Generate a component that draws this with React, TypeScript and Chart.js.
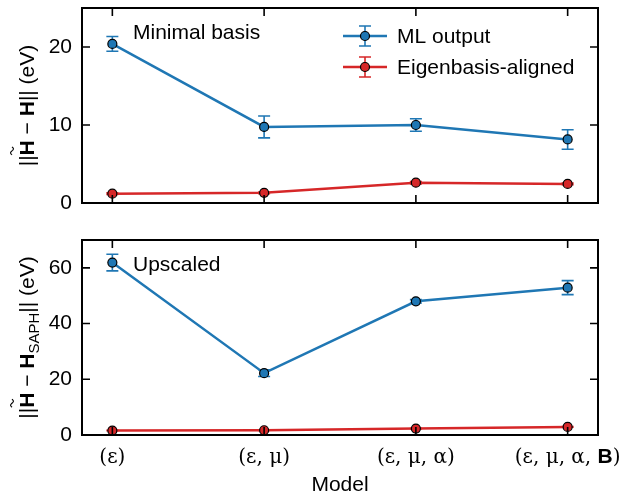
import React, { useEffect, useRef } from 'react';
import { Chart, registerables } from 'chart.js';

Chart.register(...registerables);

// ---- data ----
const categories = ['(ε)', '(ε, μ)', '(ε, μ, α)', '(ε, μ, α, B)'];
const seriesNames = ['ML output', 'Eigenbasis-aligned'];
const panelLabels = ['Minimal basis', 'Upscaled'];
const xAxisTitle = 'Model';

const minimalML = [20.4, 9.75, 10.0, 8.15];
const minimalMLErr = [0.95, 1.4, 0.8, 1.25];
const minimalEig = [1.2, 1.3, 2.6, 2.45];
const minimalEigErr = [0.1, 0.1, 0.15, 0.1];

const upscaledML = [61.9, 22.2, 48.0, 52.9];
const upscaledMLErr = [3.0, 1.2, 0.6, 2.5];
const upscaledEig = [1.6, 1.7, 2.3, 2.9];
const upscaledEigErr = [0.1, 0.1, 0.1, 0.1];

const topYMax = 25;
const topStep = 10;
const bottomYMax = 70;
const bottomStep = 20;

// ---- style ----
const BLUE = '#1f77b4';
const RED = '#d62728';
const SANS = '"Liberation Sans", Arial, sans-serif';
const SERIF = '"DejaVu Serif", serif';
const FS = 21;

type Run = { t: string; font: string; dy?: number; tilde?: boolean };

function drawRuns(ctx: CanvasRenderingContext2D, runs: Run[], x: number, y: number, align: 'center' | 'left') {
  let w = 0;
  for (const r of runs) {
    ctx.font = r.font;
    w += ctx.measureText(r.t).width;
  }
  let cx = align === 'center' ? x - w / 2 : x;
  ctx.textAlign = 'left';
  ctx.textBaseline = 'alphabetic';
  for (const r of runs) {
    ctx.font = r.font;
    const rw = ctx.measureText(r.t).width;
    ctx.fillText(r.t, cx, y + (r.dy || 0));
    if (r.tilde) {
      const mx = cx + rw / 2 - 3;
      const my = y - 22;
      ctx.save();
      ctx.lineWidth = 1.1;
      ctx.beginPath();
      for (let k = 0; k <= 16; k++) {
        const u = k / 16;
        const px = mx - 4 + 8 * u;
        const py = my - 1.4 * Math.sin(u * 2 * Math.PI);
        if (k === 0) ctx.moveTo(px, py);
        else ctx.lineTo(px, py);
      }
      ctx.stroke();
      ctx.restore();
    }
    cx += rw;
  }
}

function categoryRuns(label: string): Run[] {
  const runs: Run[] = [];
  for (const ch of label) {
    const font = ch === 'B' ? `bold ${FS}px ${SANS}` : `20px ${SERIF}`;
    const last = runs[runs.length - 1];
    if (last && last.font === font) last.t += ch;
    else runs.push({ t: ch, font });
  }
  return runs;
}

interface PanelCfg {
  ml: number[];
  mlErr: number[];
  eig: number[];
  eigErr: number[];
  yMax: number;
  step: number;
  label: string;
  yLabel: Run[];
  legend: boolean;
  xLabels: boolean;
  padding: { top: number; bottom: number; left: number; right: number };
}

function makePlugin(cfg: PanelCfg) {
  return {
    id: 'panelDecor',
    beforeDatasetsDraw(chart: any) {
      const ctx: CanvasRenderingContext2D = chart.ctx;
      const xs = chart.scales.x;
      const ys = chart.scales.y;
      chart.data.datasets.forEach((ds: any) => {
        ctx.save();
        ctx.strokeStyle = ds.borderColor;
        ctx.lineWidth = 1.6;
        ds.data.forEach((p: any, i: number) => {
          const e = ds.errors[i];
          const x = xs.getPixelForValue(p.x);
          const y1 = ys.getPixelForValue(p.y - e);
          const y2 = ys.getPixelForValue(p.y + e);
          ctx.beginPath();
          ctx.moveTo(x, y1);
          ctx.lineTo(x, y2);
          ctx.moveTo(x - 6, y1);
          ctx.lineTo(x + 6, y1);
          ctx.moveTo(x - 6, y2);
          ctx.lineTo(x + 6, y2);
          ctx.stroke();
        });
        ctx.restore();
      });
    },
    afterDraw(chart: any) {
      const ctx: CanvasRenderingContext2D = chart.ctx;
      const a = chart.chartArea;
      const xs = chart.scales.x;
      const ys = chart.scales.y;
      ctx.save();
      ctx.strokeStyle = '#000';
      ctx.fillStyle = '#000';
      // frame
      ctx.lineWidth = 2;
      ctx.strokeRect(a.left, a.top, a.right - a.left, a.bottom - a.top);
      // ticks
      ctx.lineWidth = 1.6;
      const TL = 8;
      categories.forEach((_, i) => {
        const x = xs.getPixelForValue(i);
        ctx.beginPath();
        ctx.moveTo(x, a.bottom);
        ctx.lineTo(x, a.bottom - TL);
        ctx.moveTo(x, a.top);
        ctx.lineTo(x, a.top + TL);
        ctx.stroke();
      });
      ys.ticks.forEach((t: any) => {
        const y = ys.getPixelForValue(t.value);
        ctx.beginPath();
        ctx.moveTo(a.left, y);
        ctx.lineTo(a.left + TL, y);
        ctx.moveTo(a.right, y);
        ctx.lineTo(a.right - TL, y);
        ctx.stroke();
      });
      // panel label
      ctx.font = `${FS}px ${SANS}`;
      ctx.textAlign = 'left';
      ctx.textBaseline = 'middle';
      ctx.fillText(cfg.label, 133, a.top + 25);
      // legend
      if (cfg.legend) {
        const rows = [
          { name: seriesNames[0], color: BLUE, y: 36 },
          { name: seriesNames[1], color: RED, y: 67 },
        ];
        rows.forEach((r) => {
          ctx.strokeStyle = r.color;
          ctx.lineWidth = 2.5;
          ctx.beginPath();
          ctx.moveTo(343, r.y);
          ctx.lineTo(387, r.y);
          ctx.stroke();
          ctx.lineWidth = 1.6;
          ctx.beginPath();
          ctx.moveTo(365, r.y - 10);
          ctx.lineTo(365, r.y + 10);
          ctx.moveTo(359, r.y - 10);
          ctx.lineTo(371, r.y - 10);
          ctx.moveTo(359, r.y + 10);
          ctx.lineTo(371, r.y + 10);
          ctx.stroke();
          ctx.beginPath();
          ctx.arc(365, r.y, 4.5, 0, Math.PI * 2);
          ctx.fillStyle = r.color;
          ctx.fill();
          ctx.strokeStyle = '#000';
          ctx.lineWidth = 1.2;
          ctx.stroke();
          ctx.fillStyle = '#000';
          ctx.font = `${FS}px ${SANS}`;
          ctx.textAlign = 'left';
          ctx.textBaseline = 'middle';
          ctx.fillText(r.name, 397, r.y + 1);
        });
      }
      // y axis label
      ctx.save();
      ctx.fillStyle = '#000';
      ctx.strokeStyle = '#000';
      ctx.translate(34, (a.top + a.bottom) / 2);
      ctx.rotate(-Math.PI / 2);
      drawRuns(ctx, cfg.yLabel, 0, 0, 'center');
      ctx.restore();
      // x labels
      if (cfg.xLabels) {
        ctx.fillStyle = '#000';
        categories.forEach((c, i) => {
          const x = xs.getPixelForValue(i);
          drawRuns(ctx, categoryRuns(c), x, a.bottom + 28, 'center');
        });
        ctx.font = `${FS}px ${SANS}`;
        ctx.textAlign = 'center';
        ctx.textBaseline = 'middle';
        ctx.fillText(xAxisTitle, (a.left + a.right) / 2, a.bottom + 50);
      }
      ctx.restore();
    },
  };
}

function buildChart(canvas: HTMLCanvasElement, cfg: PanelCfg) {
  const mk = (name: string, vals: number[], errs: number[], color: string) => ({
    label: name,
    data: vals.map((y, i) => ({ x: i, y })),
    errors: errs,
    borderColor: color,
    backgroundColor: color,
    borderWidth: 2.5,
    pointRadius: 4.5,
    pointBackgroundColor: color,
    pointBorderColor: '#000',
    pointBorderWidth: 1.2,
    tension: 0,
  });
  return new Chart(canvas, {
    type: 'line',
    data: {
      datasets: [
        mk(seriesNames[0], cfg.ml, cfg.mlErr, BLUE) as any,
        mk(seriesNames[1], cfg.eig, cfg.eigErr, RED) as any,
      ],
    },
    options: {
      animation: false,
      responsive: false,
      events: [],
      layout: { padding: cfg.padding },
      plugins: { legend: { display: false }, tooltip: { enabled: false } },
      scales: {
        x: { type: 'linear', min: -0.2, max: 3.2, display: false },
        y: {
          type: 'linear',
          min: 0,
          max: cfg.yMax,
          ticks: {
            stepSize: cfg.step,
            includeBounds: false,
            color: '#000',
            font: { family: SANS, size: FS },
            padding: 10,
          },
          grid: { display: false, drawTicks: false },
          border: { display: false },
          afterFit(s: any) {
            s.width = 82;
            s.paddingTop = 0;
            s.paddingBottom = 0;
          },
        },
      },
    } as any,
    plugins: [makePlugin(cfg)],
  });
}

export default function App() {
  const topRef = useRef<HTMLCanvasElement>(null);
  const botRef = useRef<HTMLCanvasElement>(null);

  useEffect(() => {
    const sansF = `${FS}px ${SANS}`;
    const boldF = `bold ${FS}px ${SANS}`;
    const top = buildChart(topRef.current!, {
      ml: minimalML,
      mlErr: minimalMLErr,
      eig: minimalEig,
      eigErr: minimalEigErr,
      yMax: topYMax,
      step: topStep,
      label: panelLabels[0],
      yLabel: [
        { t: '||', font: sansF },
        { t: 'H', font: boldF, tilde: true },
        { t: ' − ', font: sansF },
        { t: 'H', font: boldF },
        { t: '|| (eV)', font: sansF },
      ],
      legend: true,
      xLabels: false,
      padding: { top: 8, bottom: 27, left: 0, right: 23 },
    });
    const bot = buildChart(botRef.current!, {
      ml: upscaledML,
      mlErr: upscaledMLErr,
      eig: upscaledEig,
      eigErr: upscaledEigErr,
      yMax: bottomYMax,
      step: bottomStep,
      label: panelLabels[1],
      yLabel: [
        { t: '||', font: sansF },
        { t: 'H', font: boldF, tilde: true },
        { t: ' − ', font: sansF },
        { t: 'H', font: boldF },
        { t: 'SAPH', font: `15px ${SANS}`, dy: 5 },
        { t: '|| (eV)', font: sansF },
      ],
      legend: false,
      xLabels: true,
      padding: { top: 10, bottom: 60, left: 0, right: 23 },
    });
    return () => {
      top.destroy();
      bot.destroy();
    };
  }, []);

  return (
    <div style={{ position: 'absolute', left: 0, top: 0, width: 621, height: 495, background: '#fff' }}>
      <canvas ref={topRef} width={621} height={230} style={{ position: 'absolute', left: 0, top: 0 }} />
      <canvas ref={botRef} width={621} height={265} style={{ position: 'absolute', left: 0, top: 230 }} />
    </div>
  );
}
